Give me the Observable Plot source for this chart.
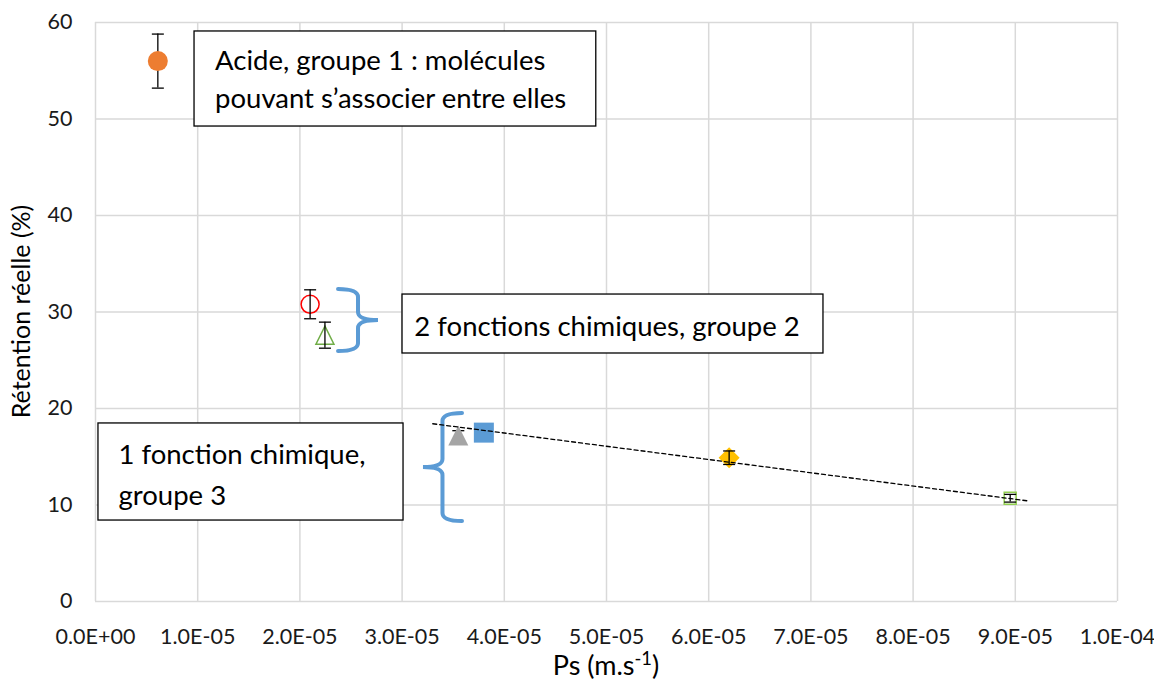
<!DOCTYPE html>
<html><head><meta charset="utf-8">
<script src="https://cdn.jsdelivr.net/npm/d3@7"></script>
<script src="https://cdn.jsdelivr.net/npm/@observablehq/plot@0.6"></script>
<style>html,body{margin:0;padding:0;background:#fff;} #chart svg{display:block}</style>
</head><body><div id="chart"></div>
<script>
// ---- data ----
const names = ["Acide (groupe 1)", "Groupe 2 - a", "Groupe 2 - b", "Groupe 3 - a", "Groupe 3 - b", "Groupe 3 - c", "Groupe 3 - d"];
const ps = [6.1e-6, 2.1e-5, 2.245e-5, 3.55e-5, 3.8e-5, 6.2e-5, 8.95e-5];
const retention = [56.0, 30.8, 27.6, 17.2, 17.5, 14.9, 10.7];
const errors = [2.8, 1.5, 1.35, 0.5, 0.5, 0.7, 0.4];
const trendPs = [3.3e-5, 9.12e-5];
const trendRetention = [18.42, 10.43];
const xTicks = [0, 1.0e-5, 2.0e-5, 3.0e-5, 4.0e-5, 5.0e-5, 6.0e-5, 7.0e-5, 8.0e-5, 9.0e-5, 1.0e-4];
const yTicks = [0, 10, 20, 30, 40, 50, 60];
const boxLines = ["Acide, groupe 1 : molécules", "pouvant s\u2019associer entre elles", "2 fonctions chimiques, groupe 2", "1 fonction chimique,", "groupe 3"];

// ---- annotation placement (data units) ----
const boxes = [
  {x1: 0.969e-5, x2: 4.90e-5, y1: 49.22, y2: 59.07},
  {x1: 3.004e-5, x2: 7.123e-5, y1: 25.70, y2: 31.81},
  {x1: 0.029e-5, x2: 3.014e-5, y1: 8.39, y2: 18.45}
];
const linePos = [
  {x: 1.17e-5, y: 55.03}, {x: 1.17e-5, y: 51.09},
  {x: 3.12e-5, y: 27.56},
  {x: 0.225e-5, y: 14.20}, {x: 0.225e-5, y: 9.95}
];

// ---- symbols (s = sqrt(size) = full extent in px) ----
const SQ = Math.sqrt(Math.PI);
const symCircle = {draw(c, size) { const s = Math.sqrt(size); c.moveTo(s / 2, 0); c.arc(0, 0, s / 2, 0, 2 * Math.PI); }};
const symTri = {draw(c, size) { const s = Math.sqrt(size); c.moveTo(0, -s / 2); c.lineTo(s / 2, s / 2); c.lineTo(-s / 2, s / 2); c.closePath(); }};
const symSquare = {draw(c, size) { const s = Math.sqrt(size); c.rect(-s / 2, -s / 2, s, s); }};
const symDiamond = {draw(c, size) { const s = Math.sqrt(size); c.moveTo(0, -s / 2); c.lineTo(s / 2, 0); c.lineTo(0, s / 2); c.lineTo(-s / 2, 0); c.closePath(); }};
const symCap = {draw(c, size) { const s = Math.sqrt(size); c.moveTo(-s / 2, 0); c.lineTo(s / 2, 0); }};

const markerStyle = [
  {symbol: symCircle, size: 20, fill: "#ED7D31", stroke: "none"},
  {symbol: symCircle, size: 18, fill: "none", stroke: "#FF0000"},
  {symbol: symTri, size: 18, fill: "none", stroke: "#70AD47"},
  {symbol: symTri, size: 20, fill: "#A5A5A5", stroke: "none"},
  {symbol: symSquare, size: 20, fill: "#5B9BD5", stroke: "none"},
  {symbol: symDiamond, size: 21, fill: "#FFC000", stroke: "none"},
  {symbol: symSquare, size: 12, fill: "none", stroke: "#92D050"}
];

const idx = names.map((_, i) => i);
const under = [0, 3, 4];
const over = [1, 2, 5, 6];

function errorMarks(ix) {
  return [
    Plot.ruleX(ix, {x: i => ps[i], y1: i => retention[i] - errors[i], y2: i => retention[i] + errors[i], stroke: "#000", strokeWidth: 1.3}),
    Plot.dot(ix, {x: i => ps[i], y: i => retention[i] + errors[i], symbol: symCap, r: 12 / SQ, stroke: "#000", fill: "none", strokeWidth: 1.3}),
    Plot.dot(ix, {x: i => ps[i], y: i => retention[i] - errors[i], symbol: symCap, r: 12 / SQ, stroke: "#000", fill: "none", strokeWidth: 1.3})
  ];
}

function brace(xEnd, xTip, yTop, yBottom) {
  return (index, scales) => {
    const xe = scales.x(xEnd), xt = scales.x(xTip), yt = scales.y(yTop), yb = scales.y(yBottom);
    const ym = (yt + yb) / 2, xs = (xe + xt) / 2, r = 8;
    const d = `M${xe},${yt} Q${xs},${yt} ${xs},${yt + r} L${xs},${ym - r} Q${xs},${ym} ${xt},${ym} Q${xs},${ym} ${xs},${ym + r} L${xs},${yb - r} Q${xs},${yb} ${xe},${yb}`;
    return d3.create("svg:path").attr("d", d).attr("fill", "none").attr("stroke", "#5B9BD5").attr("stroke-width", 4).attr("stroke-linecap", "round").node();
  };
}

function titles(index, scales, values, dims) {
  const {width, height, marginLeft, marginRight, marginTop, marginBottom} = dims;
  const g = d3.create("svg:g").attr("font-family", "Lato, sans-serif").attr("fill", "#000");
  const cx = marginLeft + (width - marginLeft - marginRight) / 2;
  const tx = g.append("text").attr("x", cx).attr("y", height - 11).attr("text-anchor", "middle").attr("font-size", 27);
  tx.append("tspan").text("Ps (m.s");
  tx.append("tspan").attr("dy", "-0.55em").attr("font-size", "0.68em").text("-1");
  tx.append("tspan").attr("dy", "0.38em").text(")");
  const cy = marginTop + (height - marginTop - marginBottom) / 2;
  g.append("text").attr("transform", `translate(30,${cy}) rotate(-90)`).attr("text-anchor", "middle").attr("font-size", 25).text("Rétention réelle (%)");
  return g.node();
}

const fmtE = d => {
  const [m, e] = d.toExponential(1).split("e");
  const sign = e[0] === "-" ? "-" : "+";
  const num = e.replace(/^[+-]/, "").padStart(2, "0");
  return `${m}E${sign}${num}`;
};

const chart = Plot.plot({
  width: 1154, height: 686,
  marginLeft: 95, marginRight: 37, marginTop: 22, marginBottom: 85,
  style: {fontFamily: "Lato, sans-serif", fontSize: "21.5px", color: "#1a1a1a", background: "#fff"},
  x: {domain: [0, 1e-4], ticks: xTicks, tickFormat: fmtE, tickSize: 0, tickPadding: 27, label: null},
  y: {domain: [0, 60], ticks: yTicks, tickSize: 0, tickPadding: 23, label: null},
  marks: [
    Plot.ruleX(xTicks, {stroke: "#d9d9d9", strokeWidth: 1.5}),
    Plot.ruleY(yTicks, {stroke: "#d9d9d9", strokeWidth: 1.5}),
    Plot.rect(boxes, {x1: "x1", x2: "x2", y1: "y1", y2: "y2", fill: "#fff", stroke: "#000", strokeWidth: 1.3}),
    Plot.text(boxLines, {x: (d, i) => linePos[i].x, y: (d, i) => linePos[i].y, text: d => d, textAnchor: "start", lineAnchor: "bottom", fontSize: 27.5, fill: "#000"}),
    brace(2.378e-5, 2.769e-5, 32.33, 25.91),
    brace(3.591e-5, 3.209e-5, 19.48, 8.29),
    ...errorMarks(under),
    ...markerStyle.map((st, i) => Plot.dot([i], {x: j => ps[j], y: j => retention[j], symbol: st.symbol, r: st.size / SQ, fill: st.fill, stroke: st.stroke, strokeWidth: 1.5})),
    ...errorMarks(over),
    Plot.line(trendPs.map((x, i) => ({x, y: trendRetention[i]})), {x: "x", y: "y", stroke: "#000", strokeWidth: 1.3, strokeDasharray: "4,3"}),
    titles
  ]
});
document.getElementById("chart").append(chart);
</script>
</body></html>
